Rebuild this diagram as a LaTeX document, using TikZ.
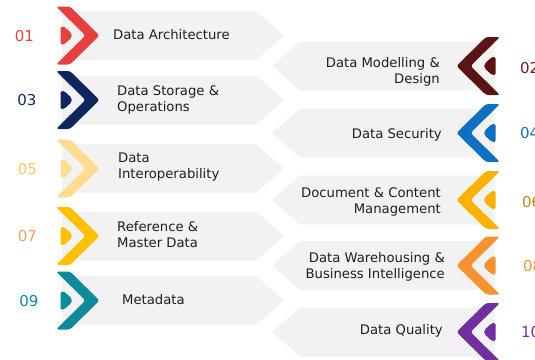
\documentclass[tikz,border=0pt]{standalone}
\usepackage{fontspec}
\setmainfont{DejaVu Sans}
\definecolor{bannergray}{HTML}{F2F2F2}
\definecolor{textdark}{HTML}{1E1E1E}
\definecolor{cA}{HTML}{E8403F}
\definecolor{cB}{HTML}{5A1414}
\definecolor{cBn}{HTML}{6E1C1C}
\definecolor{cC}{HTML}{0F2660}
\definecolor{cD}{HTML}{0E70C2}
\definecolor{cE}{HTML}{FFDC8F}
\definecolor{cEn}{HTML}{FFC760}
\definecolor{cF}{HTML}{F9B200}
\definecolor{cFn}{HTML}{B88A10}
\definecolor{cG}{HTML}{FFC000}
\definecolor{cGn}{HTML}{F4A060}
\definecolor{cH}{HTML}{F7922C}
\definecolor{cI}{HTML}{0F8A9A}
\definecolor{cJ}{HTML}{7030A0}
\tikzset{
  banner/.style={fill=bannergray},
  chevshape/.style={rounded corners=2.5pt},
  numtxt/.style={font=\fontsize{15}{18}\selectfont, inner sep=0pt},
  lbltxt/.style={font=\fontsize{13.2}{16}\selectfont, text=textdark, inner sep=0pt},
}
\newcommand{\RowShapes}[2]{%
  \fill[banner] (62,-24.5) -- (256,-24.5) -- (284,0) -- (256,24.5) -- (62,24.5) -- cycle;
  \fill[#1, chevshape] (56,-29) -- (70,-29) -- (99.5,0) -- (70,29) -- (56,29) -- (85.5,0) -- cycle;
  \fill[#2, rounded corners=1.5pt] (60.5,-9) -- (64,-9) [rounded corners=5pt] -- (74,0) [rounded corners=1.5pt] -- (64,9) -- (60.5,9) -- cycle;
}
\begin{document}
\begin{tikzpicture}[x=1pt,y=-1pt]
\useasboundingbox (0,0) rectangle (535,359);
\clip (0,0) rectangle (535,359);
% left column shapes
\begin{scope}[shift={(0,35.5)}]\RowShapes{cA}{cA}\end{scope}
\begin{scope}[shift={(0,100)}]\RowShapes{cC}{cC}\end{scope}
\begin{scope}[shift={(0,168.5)}]\RowShapes{cE}{cE}\end{scope}
\begin{scope}[shift={(0,236)}]\RowShapes{cG}{cG}\end{scope}
\begin{scope}[shift={(0,300.5)}]\RowShapes{cI}{cI}\end{scope}
% right column shapes (mirrored)
\begin{scope}[shift={(556,66)},xscale=-1]\RowShapes{cB}{cB}\end{scope}
\begin{scope}[shift={(556,133)},xscale=-1]\RowShapes{cD}{cD}\end{scope}
\begin{scope}[shift={(556,200)},xscale=-1]\RowShapes{cF}{cF}\end{scope}
\begin{scope}[shift={(556,265.5)},xscale=-1]\RowShapes{cH}{cH}\end{scope}
\begin{scope}[shift={(556,332)},xscale=-1]\RowShapes{cJ}{cJ}\end{scope}
% left numbers
\node[numtxt, text=cA] (n01) at (24.5,36.5) {01};
\node[numtxt, text=cC] (n03) at (27,100) {03};
\node[numtxt, text=cEn] (n05) at (27.5,169) {05};
\node[numtxt, text=cGn] (n07) at (27.5,236) {07};
\node[numtxt, text=cI] (n09) at (29,301) {09};
% right numbers
\node[numtxt, text=cBn, anchor=west] (n02) at (520,68.3) {02};
\node[numtxt, text=cD, anchor=west] (n04) at (520,133) {04};
\node[numtxt, text=cFn, anchor=west] (n06) at (522,202.5) {06};
\node[numtxt, text=cH, anchor=west] (n08) at (523,266) {08};
\node[numtxt, text=cJ, anchor=west] (n10) at (521,332.5) {10};
% left labels
\node[lbltxt, anchor=base west] (t01) at (113,39.3) {Data Architecture};
\node[lbltxt, anchor=west, align=left] (t03) at (117,99.5) {Data Storage \&\\Operations};
\node[lbltxt, anchor=west, align=left] (t05) at (118,167.5) {Data\\Interoperability};
\node[lbltxt, anchor=west, align=left] (t07) at (117,235) {Reference \&\\Master Data};
\node[lbltxt, anchor=base west] (t09) at (122,304) {Metadata};
% right labels
\node[lbltxt, anchor=east, align=right] (t02) at (440,71.5) {Data Modelling \&\\Design};
\node[lbltxt, anchor=base east] (t04) at (442,138.3) {Data Security};
\node[lbltxt, anchor=east, align=right] (t06) at (441,202) {Document \& Content\\Management};
\node[lbltxt, anchor=east, align=right] (t08) at (445,267) {Data Warehousing \&\\Business Intelligence};
\node[lbltxt, anchor=base east] (t10) at (443,334) {Data Quality};
\end{tikzpicture}
\end{document}
